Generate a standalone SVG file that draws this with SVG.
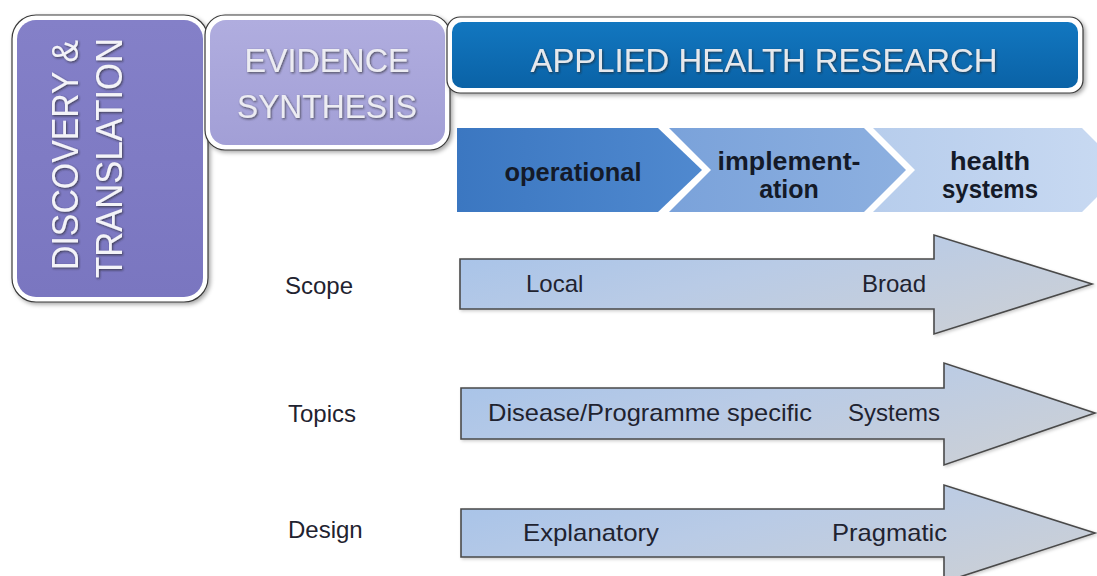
<svg xmlns="http://www.w3.org/2000/svg" width="1097" height="576" viewBox="0 0 1097 576">
  <defs>
    <style>
      .outer { fill: #ffffff; stroke: #3a3a3a; stroke-width: 1.2; }
      .hdr { font-family: "Liberation Sans", Arial, sans-serif; }
      .lbl { font-family: "Liberation Sans", Arial, sans-serif; font-size: 24px; fill: #1f2330; }
      .chev { font-family: "Liberation Sans", Arial, sans-serif; font-size: 25px; font-weight: bold; fill: #141a28; text-anchor: middle; }
      .arrow { fill: url(#gArrow); stroke: #4a4a4a; stroke-width: 1.6; stroke-linejoin: miter; }
    </style>
    <filter id="boxShadow" x="-10%" y="-10%" width="125%" height="125%">
      <feDropShadow dx="2" dy="2" stdDeviation="2" flood-color="#000" flood-opacity="0.35"/>
    </filter>
    <filter id="txtShadow" x="-5%" y="-20%" width="115%" height="150%">
      <feDropShadow dx="1" dy="1.2" stdDeviation="0.8" flood-color="#202020" flood-opacity="0.7"/>
    </filter>
    <filter id="arrShadow" x="-5%" y="-10%" width="115%" height="130%">
      <feDropShadow dx="1.5" dy="1.5" stdDeviation="1.5" flood-color="#000" flood-opacity="0.2"/>
    </filter>
    <linearGradient id="gPurple" x1="0" y1="0" x2="0" y2="1">
      <stop offset="0" stop-color="#8480c8"/>
      <stop offset="1" stop-color="#7a76c0"/>
    </linearGradient>
    <linearGradient id="gLav" x1="0" y1="0" x2="0" y2="1">
      <stop offset="0" stop-color="#b0addf"/>
      <stop offset="1" stop-color="#a29fd6"/>
    </linearGradient>
    <linearGradient id="gBlue" x1="0" y1="0" x2="0" y2="1">
      <stop offset="0" stop-color="#1277c0"/>
      <stop offset="1" stop-color="#0a62a6"/>
    </linearGradient>
    <linearGradient id="gC1" x1="0" y1="0" x2="1" y2="0">
      <stop offset="0" stop-color="#3b77c1"/>
      <stop offset="1" stop-color="#5089cf"/>
    </linearGradient>
    <linearGradient id="gC2" x1="0" y1="0" x2="1" y2="0">
      <stop offset="0" stop-color="#7aa2da"/>
      <stop offset="1" stop-color="#8db0e0"/>
    </linearGradient>
    <linearGradient id="gC3" x1="0" y1="0" x2="1" y2="0">
      <stop offset="0" stop-color="#b7cdec"/>
      <stop offset="1" stop-color="#c9daf2"/>
    </linearGradient>
    <linearGradient id="gArrow" x1="0" y1="0" x2="1" y2="0.6">
      <stop offset="0" stop-color="#a5c2e9"/>
      <stop offset="0.5" stop-color="#b9cbe6"/>
      <stop offset="1" stop-color="#c9cfd8"/>
    </linearGradient>
  </defs>

  <rect x="0" y="0" width="1097" height="576" fill="#ffffff"/>

  <g id="discovery-translation">
    <rect class="outer" x="12" y="15" width="196" height="287" rx="24" filter="url(#boxShadow)"/>
    <rect x="17" y="20" width="186" height="277" rx="19" fill="url(#gPurple)"/>
    <g class="hdr" font-size="36" fill="#f3f3f8" text-anchor="middle" filter="url(#txtShadow)">
      <text transform="translate(78,155) rotate(-90)" textLength="230" lengthAdjust="spacingAndGlyphs">DISCOVERY &amp;</text>
      <text transform="translate(122,158) rotate(-90)" textLength="240" lengthAdjust="spacingAndGlyphs">TRANSLATION</text>
    </g>
  </g>

  <g id="evidence-synthesis">
    <rect class="outer" x="205" y="15" width="245" height="135" rx="20" filter="url(#boxShadow)"/>
    <rect x="210" y="20" width="235" height="125" rx="16" fill="url(#gLav)"/>
    <g class="hdr" font-size="34" fill="#ececf2" text-anchor="middle" filter="url(#txtShadow)">
      <text x="327" y="72" textLength="165" lengthAdjust="spacingAndGlyphs">EVIDENCE</text>
      <text x="327" y="118" textLength="180" lengthAdjust="spacingAndGlyphs">SYNTHESIS</text>
    </g>
  </g>

  <g id="applied-health-research">
    <rect class="outer" x="447" y="17" width="636" height="76" rx="13" filter="url(#boxShadow)"/>
    <rect x="452" y="22" width="626" height="66" rx="10" fill="url(#gBlue)"/>
    <text class="hdr" x="764" y="72" font-size="34" fill="#e6e8ec" text-anchor="middle" textLength="467" lengthAdjust="spacingAndGlyphs" filter="url(#txtShadow)">APPLIED HEALTH RESEARCH</text>
  </g>

  <g id="chevron-operational">
    <polygon points="457,128 658,128 702,170 658,212 457,212" fill="url(#gC1)"/>
    <text class="chev" x="573" y="181" textLength="137" lengthAdjust="spacingAndGlyphs">operational</text>
  </g>
  <g id="chevron-implementation">
    <polygon points="669,128 864,128 906,170 864,212 669,212 711,170" fill="url(#gC2)"/>
    <text class="chev" x="789" y="170" textLength="143" lengthAdjust="spacingAndGlyphs">implement-</text>
    <text class="chev" x="789" y="198">ation</text>
  </g>
  <g id="chevron-health-systems">
    <polygon points="873,128 1082,128 1124,170 1082,212 873,212 915,170" fill="url(#gC3)"/>
    <text class="chev" x="990" y="170" textLength="80" lengthAdjust="spacingAndGlyphs">health</text>
    <text class="chev" x="990" y="198" textLength="96" lengthAdjust="spacingAndGlyphs">systems</text>
  </g>

  <g id="connectors">
    <g id="arrow-scope">
      <path class="arrow" filter="url(#arrShadow)" d="M460,259 H934 V235 L1092,284 L934,334 V309 H460 Z"/>
      <text class="lbl" x="526" y="292">Local</text>
      <text class="lbl" x="926" y="292" text-anchor="end">Broad</text>
    </g>
    <g id="arrow-topics">
      <path class="arrow" filter="url(#arrShadow)" d="M461,388 H944 V363 L1095,413 L944,465 V439 H461 Z"/>
      <text class="lbl" x="488" y="421" textLength="324" lengthAdjust="spacingAndGlyphs">Disease/Programme specific</text>
      <text class="lbl" x="848" y="421">Systems</text>
    </g>
    <g id="arrow-design">
      <path class="arrow" filter="url(#arrShadow)" d="M461,509 H944 V485 L1095,533 L944,582 V557 H461 Z"/>
      <text class="lbl" x="523" y="541" textLength="136" lengthAdjust="spacingAndGlyphs">Explanatory</text>
      <text class="lbl" x="832" y="541" textLength="115" lengthAdjust="spacingAndGlyphs">Pragmatic</text>
    </g>
  </g>

  <g id="row-labels">
    <text class="lbl" x="285" y="294">Scope</text>
    <text class="lbl" x="288" y="422">Topics</text>
    <text class="lbl" x="288" y="538">Design</text>
  </g>
</svg>
